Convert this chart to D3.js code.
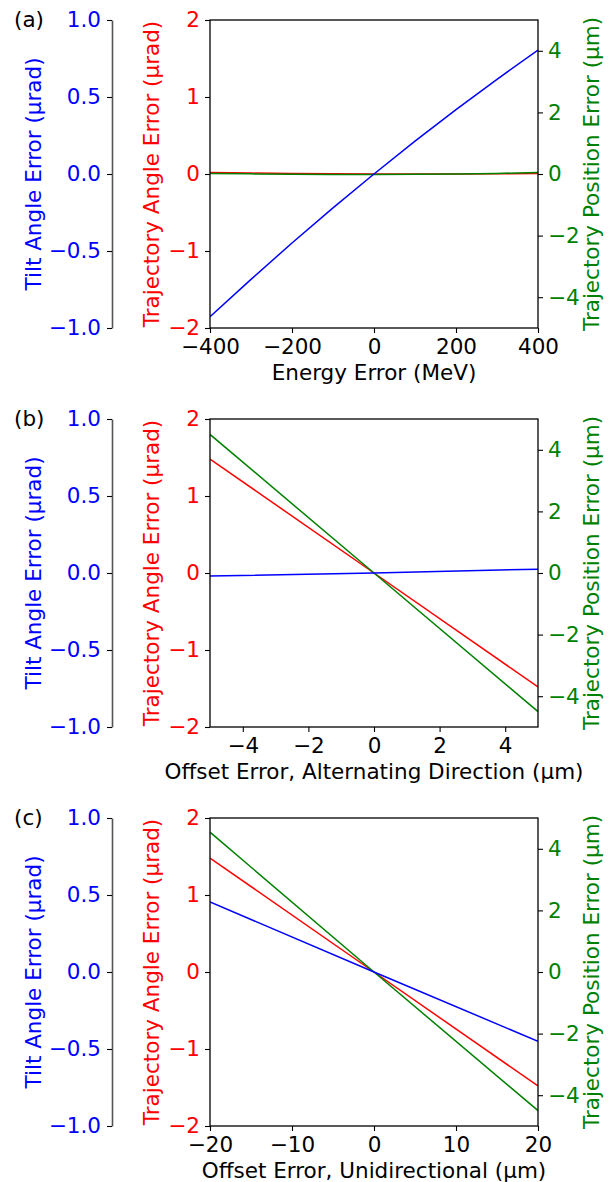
<!DOCTYPE html>
<html>
<head>
<meta charset="utf-8">
<script src="https://cdn.jsdelivr.net/npm/d3@7"></script>
<style>
  body { margin: 0; background: #fff; }
  svg text { font-family: "DejaVu Sans", sans-serif; }
</style>
</head>
<body>
<svg id="chart" width="613" height="1182"></svg>
<script>
// panel (a): energy error scan
const energyX = [-400, -300, -200, -100, 0, 100, 200, 300, 400];
const energyTilt = [-0.927, -0.684, -0.448, -0.22, 0, 0.213, 0.418, 0.615, 0.805];
const energyAngle = [0.02, 0.012, 0.006, 0.002, 0, 0, 0, 0.002, 0.005];
const energyPos = [0.02, 0.005, -0.01, -0.015, -0.015, -0.01, 0, 0.02, 0.05];
const energyTicks = [-400, -200, 0, 200, 400];

// panel (b): alternating offset
const altX = [-5, 0, 5];
const altTilt = [-0.02, 0, 0.025];
const altAngle = [1.48, 0, -1.48];
const altPos = [4.5, 0, -4.5];
const altTicks = [-4, -2, 0, 2, 4];

// panel (c): unidirectional offset
const uniX = [-20, 0, 20];
const uniTilt = [0.455, 0, -0.45];
const uniAngle = [1.48, 0, -1.48];
const uniPos = [4.54, 0, -4.5];
const uniTicks = [-20, -10, 0, 10, 20];

const tiltTicks = [-1, -0.5, 0, 0.5, 1];
const angleTicks = [-2, -1, 0, 1, 2];
const posTicks = [-4, -2, 0, 2, 4];

const panels = [
  { tag: "(a)", label: "Energy Error (MeV)", x: energyX, xDomain: [-400, 400], xTicks: energyTicks,
    tilt: energyTilt, angle: energyAngle, pos: energyPos },
  { tag: "(b)", label: "Offset Error, Alternating Direction (\u03bcm)", x: altX, xDomain: [-5, 5], xTicks: altTicks,
    tilt: altTilt, angle: altAngle, pos: altPos },
  { tag: "(c)", label: "Offset Error, Unidirectional (\u03bcm)", x: uniX, xDomain: [-20, 20], xTicks: uniTicks,
    tilt: uniTilt, angle: uniAngle, pos: uniPos },
];

const BLUE = "#0000ff", RED = "#ff0000", GREEN = "#008000";
const FS = 21.5;
const left = 210, right = 538, tiltX = 112;
const panelTops = [20, 419, 818];
const ph = 308;

const svg = d3.select("#chart");

const styleAxis = (g, color) => {
  g.attr("font-family", "DejaVu Sans, sans-serif").attr("font-size", FS);
  g.selectAll(".tick line").attr("stroke", "#000").attr("stroke-width", 1.1);
  g.selectAll(".tick text").attr("fill", color);
};

panels.forEach((p, i) => {
  const top = panelTops[i];
  const g = svg.append("g").attr("transform", `translate(0,${top})`);

  const x = d3.scaleLinear().domain(p.xDomain).range([left, right]);
  const yTilt = d3.scaleLinear().domain([-1, 1]).range([ph, 0]);
  const yAngle = d3.scaleLinear().domain([-2, 2]).range([ph, 0]);
  const yPos = d3.scaleLinear().domain([-5, 5]).range([ph, 0]);

  // tilt axis (offset spine)
  const tiltAxis = g.append("g").attr("transform", `translate(${tiltX},0)`)
    .call(d3.axisLeft(yTilt).tickValues(tiltTicks).tickFormat(d3.format(".1f"))
      .tickSize(5).tickSizeOuter(0).tickPadding(6));
  styleAxis(tiltAxis, BLUE);
  tiltAxis.select(".domain").attr("stroke", "#555").attr("stroke-width", 1.6);

  // trajectory angle axis
  const angleAxis = g.append("g").attr("transform", `translate(${left},0)`)
    .call(d3.axisLeft(yAngle).tickValues(angleTicks).tickFormat(d3.format("d"))
      .tickSize(5).tickSizeOuter(0).tickPadding(5));
  styleAxis(angleAxis, RED);
  angleAxis.select(".domain").remove();

  // trajectory position axis
  const posAxis = g.append("g").attr("transform", `translate(${right},0)`)
    .call(d3.axisRight(yPos).tickValues(posTicks).tickFormat(d3.format("d"))
      .tickSize(5).tickSizeOuter(0).tickPadding(5));
  styleAxis(posAxis, GREEN);
  posAxis.select(".domain").remove();

  // x axis
  const xAxis = g.append("g").attr("transform", `translate(0,${ph})`)
    .call(d3.axisBottom(x).tickValues(p.xTicks).tickFormat(d3.format("d"))
      .tickSize(5).tickSizeOuter(0).tickPadding(6));
  styleAxis(xAxis, "#000");
  xAxis.select(".domain").remove();

  // lines
  const clipId = `clip${i}`;
  g.append("clipPath").attr("id", clipId).append("rect")
    .attr("x", left).attr("y", 0).attr("width", right - left).attr("height", ph);

  const series = [
    { vals: p.angle, y: yAngle, color: RED },
    { vals: p.pos, y: yPos, color: GREEN },
    { vals: p.tilt, y: yTilt, color: BLUE },
  ];
  series.forEach((s) => {
    const line = d3.line().x((d, j) => x(p.x[j])).y((d) => s.y(d));
    g.append("path").datum(s.vals).attr("d", line)
      .attr("fill", "none").attr("stroke", s.color).attr("stroke-width", 1.5)
      .attr("clip-path", `url(#${clipId})`);
  });

  // frame
  g.append("rect").attr("x", left).attr("y", 0).attr("width", right - left).attr("height", ph)
    .attr("fill", "none").attr("stroke", "#000").attr("stroke-width", 1.3);

  // axis labels
  const mid = ph / 2;
  g.append("text").attr("transform", `translate(41,${mid}) rotate(-90)`)
    .attr("text-anchor", "middle").attr("font-size", FS).attr("fill", BLUE)
    .text("Tilt Angle Error (\u03bcrad)");
  g.append("text").attr("transform", `translate(159,${mid}) rotate(-90)`)
    .attr("text-anchor", "middle").attr("font-size", FS).attr("fill", RED)
    .text("Trajectory Angle Error (\u03bcrad)");
  g.append("text").attr("transform", `translate(599,${mid}) rotate(-90)`)
    .attr("text-anchor", "middle").attr("font-size", FS).attr("fill", GREEN)
    .text("Trajectory Position Error (\u03bcm)");
  g.append("text").attr("x", (left + right) / 2).attr("y", ph + 52)
    .attr("text-anchor", "middle").attr("font-size", FS).attr("fill", "#000")
    .text(p.label);

  // panel tag
  g.append("text").attr("x", 14).attr("y", 7)
    .attr("font-size", FS).attr("fill", "#000").text(p.tag);
});
</script>
</body>
</html>
